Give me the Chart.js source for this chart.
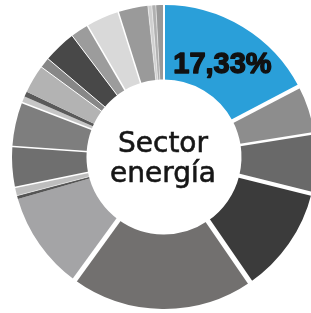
<!DOCTYPE html>
<html>
<head>
<meta charset="utf-8">
<script src="https://cdn.jsdelivr.net/npm/chart.js@4.4.0/dist/chart.umd.min.js"></script>
<style>
html,body{margin:0;padding:0;background:#fff;overflow:hidden}
#wrap{position:absolute;left:0;top:0;width:317px;height:313px}
</style>
</head>
<body>
<div id="wrap"><canvas id="chart"></canvas></div>
<script>
// shares in %, clockwise from 12 o'clock
const labels=["Energía","S2","S3","S4","S5","S6","S7","S8","S9","S10","S11","S12","S13","S14","S15","S16","S17","S18","S19","S20","S21"];
const values=[17.33,5.17,6.39,11.53,19.58,10.56,0.36,0.89,4.31,4.72,0.69,0.56,3.0,1.11,3.5,1.92,3.53,3.17,0.42,0.42,0.86];
const colors=["#2a9fd9","#8d8d8d","#696969","#3b3b3b","#72706f","#a4a4a6","#555555","#bdbdbd","#6f6f6f","#7e7e7e","#c6c6c6","#5a5a5a","#b3b3b3","#878787","#484848","#9c9c9c","#d9d9d9","#9a9a9a","#cfcfcf","#b0b0b0","#999999"];
// white gap drawn at the start of each slice
const gaps=[2,4,2.5,4,5,5,0,0.5,1.5,1.5,1.5,0,0,1,1,1,1.5,1.5,0.5,0.5,0.5];
const centerLines=["Sector","energía"];

const overlay={
  id:"overlay",
  afterDatasetsDraw(chart){
    const ctx=chart.ctx;
    const arcs=chart.getDatasetMeta(0).data;
    ctx.save();
    ctx.strokeStyle="#fff"; ctx.lineCap="butt";
    arcs.forEach((a,i)=>{
      const w=gaps[i]; if(!w) return;
      const p=a.getProps(["x","y","startAngle","innerRadius","outerRadius"]);
      const c=Math.cos(p.startAngle), s=Math.sin(p.startAngle);
      ctx.lineWidth=w;
      ctx.beginPath();
      ctx.moveTo(p.x+c*(p.innerRadius-2),p.y+s*(p.innerRadius-2));
      ctx.lineTo(p.x+c*(p.outerRadius+3),p.y+s*(p.outerRadius+3));
      ctx.stroke();
    });
    const cx=arcs[0].x, cy=arcs[0].y;
    ctx.fillStyle="#161616"; ctx.strokeStyle="#161616"; ctx.lineWidth=0.6;
    ctx.textAlign="center"; ctx.textBaseline="alphabetic";
    ctx.font="28px 'DejaVu Sans'";
    centerLines.forEach((t,i)=>{
      ctx.strokeText(t,cx-1,cy-5+i*30);
      ctx.fillText(t,cx-1,cy-5+i*30);
    });
    // label of the highlighted slice
    const m=arcs[0].getCenterPoint();
    const txt=values[0].toFixed(2).replace(".",",")+"%";
    ctx.font="bold 29px 'Liberation Sans'";
    ctx.fillStyle="#111"; ctx.strokeStyle="#111"; ctx.lineWidth=1.4; ctx.lineJoin="round";
    ctx.strokeText(txt,m.x-1,m.y+14);
    ctx.fillText(txt,m.x-1,m.y+14);
    ctx.restore();
  }
};

new Chart(document.getElementById("chart"),{
  type:"doughnut",
  data:{labels:labels,datasets:[{data:values,backgroundColor:colors,borderWidth:0}]},
  options:{
    responsive:true, maintainAspectRatio:false, animation:false, events:[],
    cutout:"51%",
    layout:{padding:{left:12,right:1,top:5,bottom:4}},
    plugins:{legend:{display:false},tooltip:{enabled:false}}
  },
  plugins:[overlay]
});
</script>
</body>
</html>
